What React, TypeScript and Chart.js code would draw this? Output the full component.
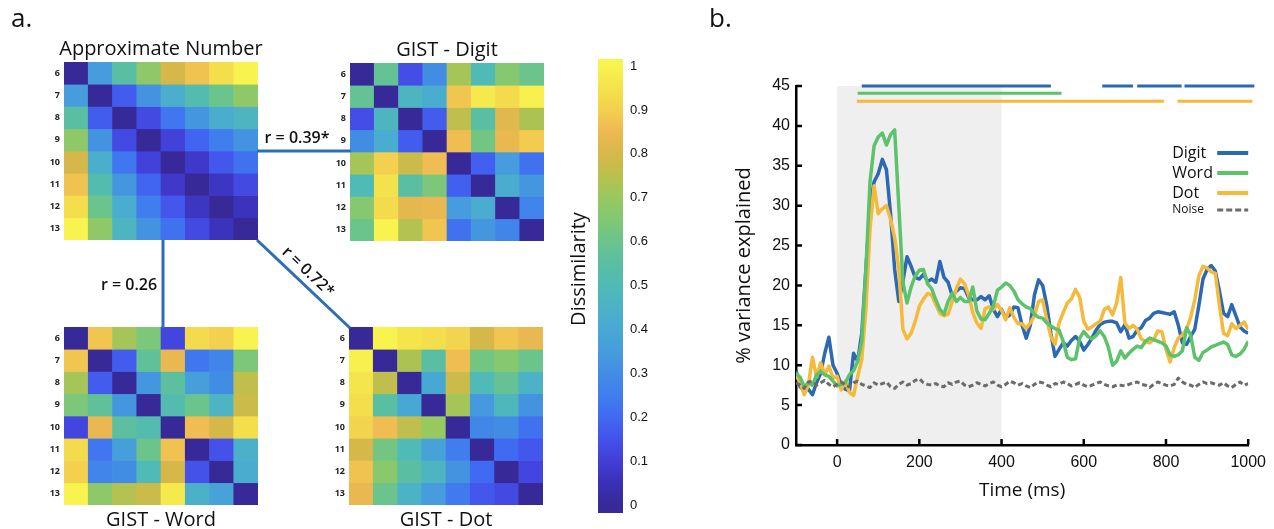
import React, { useEffect, useRef } from "react";
import { Chart, registerables } from "chart.js";
Chart.register(...registerables);

if (typeof document !== "undefined") document.body.style.margin = "0";

// ---------------- Panel a data ----------------
const NUMEROSITIES = ["6", "7", "8", "9", "10", "11", "12", "13"];

const APPROX_NUMBER = [
  [0, 0.35, 0.55, 0.68, 0.8, 0.87, 0.94, 1.0],
  [0.35, 0, 0.17, 0.32, 0.43, 0.52, 0.6, 0.68],
  [0.55, 0.17, 0, 0.13, 0.23, 0.33, 0.42, 0.47],
  [0.68, 0.32, 0.13, 0, 0.11, 0.19, 0.25, 0.32],
  [0.8, 0.43, 0.23, 0.11, 0, 0.08, 0.16, 0.22],
  [0.87, 0.52, 0.33, 0.19, 0.08, 0, 0.07, 0.13],
  [0.94, 0.6, 0.42, 0.25, 0.16, 0.07, 0, 0.06],
  [1.0, 0.68, 0.47, 0.32, 0.22, 0.13, 0.06, 0],
];
const GIST_DIGIT = [
  [0, 0.58, 0.14, 0.3, 0.72, 0.5, 0.66, 0.6],
  [0.58, 0, 0.47, 0.42, 0.88, 0.97, 0.93, 0.99],
  [0.14, 0.47, 0, 0.17, 0.76, 0.55, 0.82, 0.73],
  [0.3, 0.42, 0.17, 0, 0.86, 0.62, 0.84, 0.89],
  [0.72, 0.9, 0.78, 0.86, 0, 0.18, 0.35, 0.22],
  [0.5, 0.95, 0.55, 0.64, 0.18, 0, 0.42, 0.33],
  [0.66, 0.93, 0.83, 0.84, 0.35, 0.42, 0, 0.27],
  [0.6, 1.0, 0.74, 0.88, 0.22, 0.33, 0.27, 0],
];
const GIST_WORD = [
  [0, 0.88, 0.72, 0.64, 0.12, 0.93, 0.9, 1.0],
  [0.88, 0, 0.17, 0.57, 0.84, 0.23, 0.27, 0.64],
  [0.72, 0.17, 0, 0.33, 0.56, 0.36, 0.3, 0.76],
  [0.64, 0.57, 0.33, 0, 0.52, 0.6, 0.46, 0.78],
  [0.12, 0.84, 0.56, 0.52, 0, 0.86, 0.8, 0.94],
  [0.93, 0.23, 0.36, 0.6, 0.87, 0, 0.15, 0.44],
  [0.9, 0.27, 0.3, 0.5, 0.8, 0.15, 0, 0.42],
  [1.0, 0.68, 0.74, 0.78, 0.97, 0.44, 0.38, 0],
];
const GIST_DOT = [
  [0, 1.0, 0.96, 0.94, 0.91, 0.8, 0.88, 0.84],
  [0.99, 0, 0.73, 0.55, 0.86, 0.62, 0.66, 0.6],
  [0.96, 0.76, 0, 0.4, 0.78, 0.5, 0.58, 0.45],
  [0.94, 0.55, 0.4, 0, 0.72, 0.34, 0.48, 0.32],
  [0.91, 0.86, 0.76, 0.7, 0, 0.28, 0.3, 0.22],
  [0.8, 0.62, 0.5, 0.38, 0.25, 0, 0.2, 0.16],
  [0.87, 0.67, 0.55, 0.47, 0.32, 0.2, 0, 0.12],
  [0.84, 0.6, 0.45, 0.35, 0.24, 0.16, 0.13, 0],
];
const COLORBAR_TICKS = [0, 0.1, 0.2, 0.3, 0.4, 0.5, 0.6, 0.7, 0.8, 0.9, 1];
const CORRELATION_LABELS = ["r = 0.39*", "r = 0.26", "r = 0.72*"];

// ---------------- Panel b data ----------------
const TIME_MS = Array.from({ length: 111 }, (_, i) => -100 + i * 10);
const DIGIT = [
  9.3, 7.3, 6.8, 7.0, 6.3, 7.8, 9.0, 11.5, 13.5, 10.0,
  9.0, 7.5, 7.0, 6.8, 11.5, 10.5, 14.0, 22.0, 30.0, 33.0,
  34.0, 35.8, 34.5, 29.0, 22.0, 18.0, 20.5, 23.6, 22.4, 21.0,
  20.8, 21.4, 20.5, 20.8, 20.4, 23.0, 21.0, 20.4, 18.7, 19.3,
  19.7, 19.6, 18.5, 18.2, 18.2, 18.6, 18.2, 18.7, 17.0, 16.1,
  17.0, 15.9, 16.3, 17.3, 17.2, 15.0, 13.4, 15.0, 18.8, 20.7,
  20.0, 17.5, 14.0, 11.1, 12.0, 12.8, 12.4, 13.1, 13.6, 13.0,
  11.9, 12.6, 13.4, 14.4, 15.1, 15.4, 15.5, 15.5, 15.3, 14.2,
  15.1, 13.4, 13.6, 14.4, 14.7, 15.6, 15.9, 16.5, 16.7, 16.6,
  16.5, 16.4, 16.7, 15.0, 12.8, 12.6, 13.6, 14.5, 17.5, 20.8,
  22.0, 22.5, 21.8, 19.3, 16.5, 16.1, 17.6, 16.2, 14.8, 14.3,
  14.0,
];
const WORD = [
  9.0, 8.5, 7.3, 7.8, 7.5, 8.8, 9.2, 8.8, 8.6, 8.0,
  7.4, 7.6, 7.8, 8.8, 9.3, 10.5, 13.0, 22.0, 33.0, 37.5,
  38.6, 39.1, 37.6, 38.9, 39.5, 30.0, 20.5, 17.8, 19.8, 21.2,
  21.9, 22.0, 20.2, 19.6, 18.2, 17.0, 16.4, 18.0, 19.0, 18.0,
  18.5, 18.0, 18.0, 19.8, 16.8, 15.8, 15.7, 16.5, 17.4, 19.4,
  19.8, 20.3, 20.0, 19.3, 18.2, 17.7, 17.3, 17.1, 16.4, 16.0,
  15.9, 15.3, 14.9, 14.6, 14.4, 13.0, 11.0, 10.7, 10.8, 13.4,
  14.2, 13.6, 13.3, 13.7, 14.3, 13.6, 12.2, 10.0, 10.5, 11.8,
  10.9, 11.5, 12.0, 12.4, 12.2, 13.0, 13.4, 13.2, 13.0, 12.8,
  12.4, 11.3, 11.1, 11.3, 11.8, 14.7, 13.8, 11.0, 10.6, 11.6,
  11.9, 12.3, 12.5, 12.7, 12.9, 12.6, 11.3, 11.1, 11.4, 12.0,
  13.0,
];
const DOT = [
  8.8, 7.8, 6.3, 7.5, 11.0, 8.5, 10.3, 8.8, 9.9, 8.4,
  8.6, 6.9, 8.0, 6.6, 6.2, 8.6, 10.7, 17.0, 27.0, 32.5,
  29.0, 29.6, 30.0, 28.3, 26.0, 22.0, 14.5, 13.3, 14.0, 15.5,
  17.4, 18.3, 19.0, 18.8, 17.6, 16.5, 16.2, 16.4, 18.0, 19.6,
  20.8, 20.2, 18.8, 16.6, 15.3, 14.6, 17.1, 17.3, 17.0, 17.6,
  16.9, 15.7, 17.2, 16.0, 15.2, 15.2, 14.6, 15.3, 16.2, 18.0,
  18.2, 15.7, 13.6, 12.6, 15.3, 16.6, 17.8, 18.3, 19.5, 18.5,
  15.5, 14.5, 14.8, 15.2, 15.5, 17.0, 17.3, 16.3, 17.8, 21.0,
  15.3, 14.6, 15.0, 14.5, 13.3, 13.0, 12.8, 13.2, 14.3, 14.2,
  12.0, 10.4, 12.2, 13.4, 13.8, 14.5, 16.0, 18.2, 21.2, 22.4,
  22.2, 21.7, 21.5, 17.5, 14.0, 13.7, 15.2, 14.6, 15.0, 15.4,
  14.5,
];
const NOISE = [
  7.8, 7.5, 7.1, 7.9, 8.0, 7.5, 7.8, 8.1, 7.6, 7.3,
  7.6, 7.9, 7.5, 7.3, 7.8, 8.0, 7.6, 7.4, 7.2, 7.8,
  7.5, 7.7, 7.9, 7.3, 7.1, 7.6, 7.9, 7.5, 7.7, 8.1,
  8.3, 7.8, 7.6, 7.5, 7.7, 7.4, 7.3, 7.8, 7.6, 7.9,
  8.0, 7.5, 7.3, 7.5, 7.8, 7.6, 7.4, 7.7, 7.9, 7.5,
  7.3, 7.6, 8.0, 7.8, 7.5, 7.7, 7.4, 7.2, 7.6, 7.9,
  7.8, 7.5, 7.3, 7.7, 7.6, 7.9, 7.7, 7.4, 7.6, 7.8,
  7.5, 7.3, 7.5, 7.7, 7.9, 7.6, 7.4, 7.3, 7.5, 7.5,
  7.4, 7.6, 7.8, 7.9, 7.6, 7.5, 7.2, 7.6, 7.9, 7.7,
  7.5, 7.4, 7.6, 8.4, 7.9, 7.6, 7.5, 7.2, 7.6, 7.9,
  7.7, 7.8, 7.6, 7.5, 7.8, 7.4, 7.2, 7.6, 7.9, 7.5,
  7.7,
];
const X_TICKS = [0, 200, 400, 600, 800, 1000];
const Y_TICKS = [0, 5, 10, 15, 20, 25, 30, 35, 40, 45];
const STIM_WINDOW = [0, 400];
const SIG_DIGIT = [[60, 520], [645, 720], [730, 838], [845, 1015]];
const SIG_WORD = [[50, 546]];
const SIG_DOT = [[48, 795], [828, 1010]];
const SIG_LEVELS = { Digit: 45, Word: 44.1, Dot: 43.1 };
const SERIES_NAMES = ["Digit", "Word", "Dot", "Noise"];

// ---------------- styles ----------------
const COLORS = { Digit: "#2b69b2", Word: "#5cc36b", Dot: "#f5b93b", Noise: "#6b6b6b" };
const CMAP: number[][] = [
  [0.0, 55, 42, 152], [0.05, 58, 48, 182], [0.1, 66, 62, 214], [0.15, 68, 82, 234],
  [0.2, 64, 106, 242], [0.25, 64, 126, 238], [0.3, 66, 141, 228], [0.35, 70, 156, 220],
  [0.4, 72, 168, 212], [0.45, 76, 178, 198], [0.5, 80, 186, 182], [0.55, 90, 190, 162],
  [0.6, 106, 196, 140], [0.65, 128, 200, 116], [0.7, 152, 200, 96], [0.75, 186, 192, 76],
  [0.8, 214, 184, 74], [0.85, 238, 184, 82], [0.9, 243, 208, 78], [0.95, 244, 226, 76],
  [1.0, 248, 243, 78],
];
function cmap(v: number): string {
  const x = Math.max(0, Math.min(1, v));
  for (let i = 0; i < CMAP.length - 1; i++) {
    const a = CMAP[i], b = CMAP[i + 1];
    if (x <= b[0]) {
      const t = (x - a[0]) / (b[0] - a[0]);
      const c = [1, 2, 3].map((k) => Math.round(a[k] + (b[k] - a[k]) * t));
      return `rgb(${c[0]},${c[1]},${c[2]})`;
    }
  }
  const l = CMAP[CMAP.length - 1];
  return `rgb(${l[1]},${l[2]},${l[3]})`;
}

const HEAT_W = 194, HEAT_H = 178;
const RECTS = {
  approx: { left: 64, top: 62 },
  digit: { left: 350, top: 63 },
  word: { left: 64, top: 327 },
  dot: { left: 349, top: 327 },
};

function Heatmap(props: { matrix: number[][]; title: string; below?: boolean; left: number; top: number }) {
  const ref = useRef<HTMLCanvasElement>(null);
  const padL = 30, padR = 12, padT = 40, padB = 40;
  useEffect(() => {
    const { matrix, title, below } = props;
    const titlePlugin = {
      id: "heatTitle",
      afterDraw(chart: any) {
        const { ctx, chartArea: ca } = chart;
        ctx.save();
        ctx.font = '20px "Open Sans"';
        ctx.fillStyle = "#111";
        ctx.textAlign = "center";
        ctx.textBaseline = "alphabetic";
        ctx.fillText(title, (ca.left + ca.right) / 2, below ? ca.bottom + 21 : ca.top - 7);
        ctx.restore();
      },
    };
    const chart = new Chart(ref.current!, {
      type: "bar",
      data: {
        labels: NUMEROSITIES,
        datasets: matrix.map((row, r) => ({
          label: NUMEROSITIES[r],
          data: row.map(() => 1),
          backgroundColor: row.map((v) => cmap(v)),
          borderWidth: 0,
          barPercentage: 1,
          categoryPercentage: 1,
        })),
      },
      options: {
        animation: false,
        responsive: false,
        maintainAspectRatio: false,
        layout: { padding: { left: 0, right: padR, top: padT, bottom: padB } },
        plugins: { legend: { display: false }, tooltip: { enabled: false } },
        scales: {
          x: { stacked: true, display: false },
          y: {
            stacked: true,
            min: 0,
            max: 8,
            reverse: true,
            afterFit: (s: any) => { s.width = padL; },
            afterBuildTicks: (s: any) => { s.ticks = NUMEROSITIES.map((_, i) => ({ value: i + 0.5 })); },
            ticks: {
              autoSkip: false,
              padding: 4,
              color: "#222",
              font: { family: "Open Sans", size: 9, weight: "bold" },
              callback: (_v: any, i: number) => NUMEROSITIES[i],
            },
            grid: { display: false, drawTicks: false },
            border: { display: false },
          },
        },
      } as any,
      plugins: [titlePlugin],
    });
    return () => chart.destroy();
  }, []);
  const w = HEAT_W + padL + padR, h = HEAT_H + padT + padB;
  return (
    <canvas
      ref={ref}
      width={w}
      height={h}
      style={{ position: "absolute", left: props.left - padL, top: props.top - padT, width: w, height: h }}
    />
  );
}

function ColorBar() {
  const ref = useRef<HTMLCanvasElement>(null);
  useEffect(() => {
    const gradPlugin = {
      id: "grad",
      beforeDraw(chart: any) {
        const { ctx, chartArea: ca, scales } = chart;
        const y = scales.y;
        const y0 = y.getPixelForValue(0), y1 = y.getPixelForValue(1);
        const g = ctx.createLinearGradient(0, y0, 0, y1);
        CMAP.forEach((s) => g.addColorStop(s[0], `rgb(${s[1]},${s[2]},${s[3]})`));
        ctx.save();
        ctx.fillStyle = g;
        ctx.fillRect(ca.left, ca.top, ca.right - ca.left, ca.bottom - ca.top);
        ctx.translate(ca.left - 19, ca.top + 210);
        ctx.rotate(-Math.PI / 2);
        ctx.font = '20px "Open Sans"';
        ctx.fillStyle = "#111";
        ctx.textAlign = "center";
        ctx.textBaseline = "middle";
        ctx.fillText("Dissimilarity", 0, 0);
        ctx.restore();
      },
    };
    const chart = new Chart(ref.current!, {
      type: "bar",
      data: { labels: [""], datasets: [{ data: [], backgroundColor: "transparent" }] },
      options: {
        animation: false,
        responsive: false,
        maintainAspectRatio: false,
        layout: { padding: { left: 38, right: 0, top: 19, bottom: 16 } },
        plugins: { legend: { display: false }, tooltip: { enabled: false } },
        scales: {
          x: { display: false },
          y: {
            position: "right",
            min: -0.018,
            max: 1.016,
            afterFit: (s: any) => { s.width = 47; },
            afterBuildTicks: (s: any) => { s.ticks = COLORBAR_TICKS.map((v) => ({ value: v })); },
            ticks: {
              padding: 7,
              color: "#111",
              font: { family: "Liberation Sans", size: 13 },
              callback: (v: any) => `${v}`,
            },
            grid: { display: false, drawTicks: false },
            border: { display: false },
          },
        },
      } as any,
      plugins: [gradPlugin],
    });
    return () => chart.destroy();
  }, []);
  return (
    <canvas ref={ref} width={110} height={489} style={{ position: "absolute", left: 560, top: 40, width: 110, height: 489 }} />
  );
}

function segs(list: number[][], level: number) {
  const out: any[] = [];
  list.forEach(([a, b]) => {
    out.push({ x: a, y: level }, { x: b, y: level }, { x: b, y: null });
  });
  return out;
}

function TimeChart() {
  const ref = useRef<HTMLCanvasElement>(null);
  useEffect(() => {
    const shade = {
      id: "shade",
      beforeDraw(chart: any) {
        const { ctx, scales } = chart;
        const x0 = scales.x.getPixelForValue(STIM_WINDOW[0]);
        const x1 = scales.x.getPixelForValue(STIM_WINDOW[1]);
        const yt = scales.y.getPixelForValue(45), yb = scales.y.getPixelForValue(0);
        ctx.save();
        ctx.fillStyle = "#efefef";
        ctx.fillRect(x0, yt, x1 - x0, yb - yt);
        ctx.restore();
      },
    };
    const ticksIn = {
      id: "ticksIn",
      afterDraw(chart: any) {
        const { ctx, scales, chartArea: ca } = chart;
        ctx.save();
        ctx.strokeStyle = "#000";
        ctx.lineWidth = 2.5;
        ctx.beginPath();
        X_TICKS.forEach((v) => {
          const p = scales.x.getPixelForValue(v);
          ctx.moveTo(p, ca.bottom);
          ctx.lineTo(p, ca.bottom - 6);
        });
        Y_TICKS.forEach((v) => {
          const p = scales.y.getPixelForValue(v);
          ctx.moveTo(ca.left, p);
          ctx.lineTo(ca.left + 6, p);
        });
        ctx.stroke();
        // legend
        const tx = ca.right - 76;
        const rows = [67, 87, 107, 124];
        SERIES_NAMES.forEach((name, i) => {
          const y = ca.top + rows[i];
          ctx.font = name === "Noise" ? '12px "Open Sans"' : '16px "Open Sans"';
          ctx.fillStyle = "#111";
          ctx.textAlign = "left";
          ctx.textBaseline = "middle";
          ctx.fillText(name, tx, y);
          ctx.beginPath();
          ctx.strokeStyle = (COLORS as any)[name];
          ctx.lineWidth = name === "Noise" ? 3 : 4;
          ctx.setLineDash(name === "Noise" ? [6, 3] : []);
          ctx.moveTo(ca.right - 31, y);
          ctx.lineTo(ca.right, y);
          ctx.stroke();
        });
        ctx.restore();
      },
    };
    const mk = (vals: number[]) => vals.map((v, i) => ({ x: TIME_MS[i], y: v }));
    const chart = new Chart(ref.current!, {
      type: "line",
      data: {
        datasets: [
          { label: "Noise", data: mk(NOISE), borderColor: COLORS.Noise, borderWidth: 3, borderDash: [5, 3] },
          { label: "Word", data: mk(WORD), borderColor: COLORS.Word, borderWidth: 3.5 },
          { label: "Dot", data: mk(DOT), borderColor: COLORS.Dot, borderWidth: 3.5 },
          { label: "Digit", data: mk(DIGIT), borderColor: COLORS.Digit, borderWidth: 3.5 },
          { label: "sigDigit", data: segs(SIG_DIGIT, SIG_LEVELS.Digit), borderColor: COLORS.Digit, borderWidth: 3, clip: false },
          { label: "sigWord", data: segs(SIG_WORD, SIG_LEVELS.Word), borderColor: COLORS.Word, borderWidth: 3, clip: false },
          { label: "sigDot", data: segs(SIG_DOT, SIG_LEVELS.Dot), borderColor: COLORS.Dot, borderWidth: 3, clip: false },
        ],
      },
      options: {
        animation: false,
        responsive: false,
        maintainAspectRatio: false,
        layout: { padding: { left: 0, right: 25.5, top: 86, bottom: 0 } },
        elements: { point: { radius: 0 }, line: { tension: 0, borderJoinStyle: "round", borderCapStyle: "butt" } },
        plugins: { legend: { display: false }, tooltip: { enabled: false } },
        scales: {
          x: {
            type: "linear",
            min: -100,
            max: 1000,
            afterFit: (s: any) => { s.height = 84; },
            afterBuildTicks: (s: any) => { s.ticks = X_TICKS.map((v) => ({ value: v })); },
            grid: { display: false, drawTicks: false },
            border: { display: true, color: "#000", width: 2.5 },
            ticks: {
              padding: 8,
              maxRotation: 0,
              color: "#111",
              font: { family: "Liberation Sans", size: 16 },
              callback: (v: any) => String(v),
            },
            title: {
              display: true,
              text: "Time (ms)",
              color: "#111",
              font: { family: "Open Sans", size: 19 },
              padding: { top: 0, bottom: 27 },
            },
          },
          y: {
            min: 0,
            max: 45,
            afterFit: (s: any) => { s.width = 96; },
            afterBuildTicks: (s: any) => { s.ticks = Y_TICKS.map((v) => ({ value: v })); },
            grid: { display: false, drawTicks: false },
            border: { display: true, color: "#000", width: 2.5 },
            ticks: {
              padding: 6,
              color: "#111",
              font: { family: "Liberation Sans", size: 16 },
              callback: (v: any) => String(v),
            },
            title: {
              display: true,
              text: "% variance explained",
              color: "#111",
              font: { family: "Open Sans", size: 20 },
              padding: { top: 32, bottom: 0 },
            },
          },
        },
      } as any,
      plugins: [shade, ticksIn],
    });
    return () => chart.destroy();
  }, []);
  return (
    <canvas ref={ref} width={574} height={529} style={{ position: "absolute", left: 700, top: 0, width: 574, height: 529 }} />
  );
}

export default function App() {
  const A = RECTS.approx, D = RECTS.digit, W = RECTS.word, T = RECTS.dot;
  const lineColor = "#2f6db4";
  const diag = { x1: A.left + HEAT_W - 1, y1: A.top + HEAT_H, x2: T.left + 1, y2: T.top + 1 };
  const ang = (Math.atan2(diag.y2 - diag.y1, diag.x2 - diag.x1) * 180) / Math.PI;
  return (
    <div style={{ position: "relative", width: 1274, height: 529, background: "#fff", overflow: "hidden" }}>
      <Heatmap matrix={APPROX_NUMBER} title="Approximate Number" left={A.left} top={A.top} />
      <Heatmap matrix={GIST_DIGIT} title="GIST - Digit" left={D.left} top={D.top} />
      <Heatmap matrix={GIST_WORD} title="GIST - Word" below left={W.left} top={W.top} />
      <Heatmap matrix={GIST_DOT} title="GIST - Dot" below left={T.left} top={T.top} />
      <ColorBar />
      <TimeChart />
      <svg width={1274} height={529} style={{ position: "absolute", left: 0, top: 0, pointerEvents: "none" }}>
        <text x={11} y={27} fontSize={26} fontFamily="Open Sans" fill="#111">a.</text>
        <text x={709} y={27} fontSize={26} fontFamily="Open Sans" fill="#111">b.</text>
        <line x1={A.left + HEAT_W - 1} y1={151} x2={D.left + 1} y2={151} stroke={lineColor} strokeWidth={3} />
        <line x1={163} y1={A.top + HEAT_H} x2={163} y2={W.top + 1} stroke={lineColor} strokeWidth={3} />
        <line x1={diag.x1} y1={diag.y1} x2={diag.x2} y2={diag.y2} stroke={lineColor} strokeWidth={3} />
        <text x={297} y={143} textAnchor="middle" fontSize={16} fontWeight="600" fontFamily="Open Sans" fill="#111">
          {CORRELATION_LABELS[0]}
        </text>
        <text x={129} y={290} textAnchor="middle" fontSize={16} fontWeight="600" fontFamily="Open Sans" fill="#111">
          {CORRELATION_LABELS[1]}
        </text>
        <text
          transform={`translate(309,271) rotate(${ang})`}
          textAnchor="middle"
          dominantBaseline="central"
          fontSize={16}
          fontWeight="600"
          fontFamily="Open Sans"
          fill="#111"
        >
          {CORRELATION_LABELS[2]}
        </text>
      </svg>
    </div>
  );
}
